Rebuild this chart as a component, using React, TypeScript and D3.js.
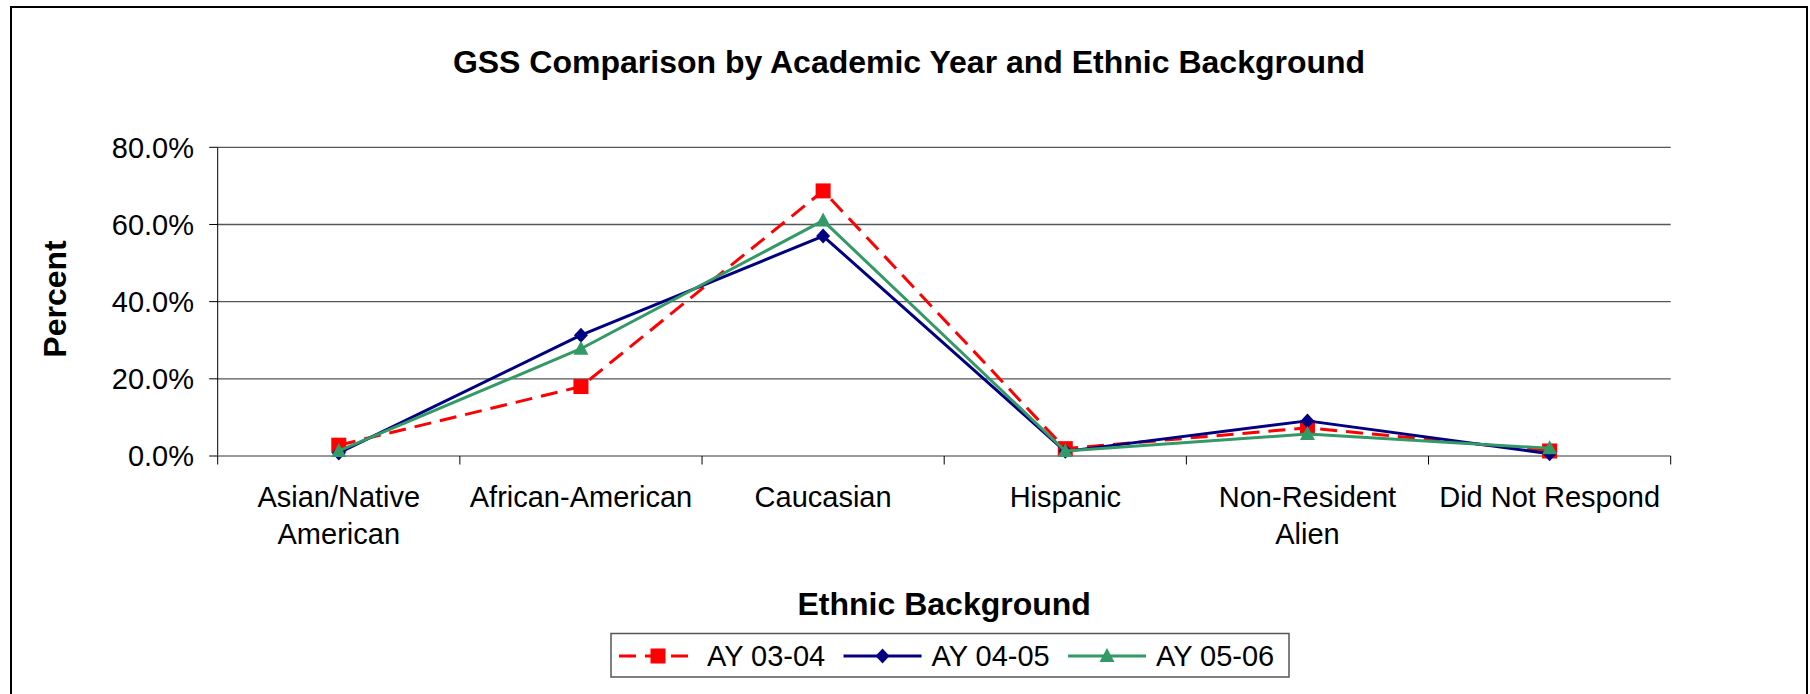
import React, { useEffect, useRef } from 'react';
import * as d3 from 'd3';

const categories = [
  'Asian/Native\nAmerican',
  'African-American',
  'Caucasian',
  'Hispanic',
  'Non-Resident\nAlien',
  'Did Not Respond',
];
const ay0304 = [0.028, 0.18, 0.687, 0.019, 0.073, 0.013];
const ay0405 = [0.008, 0.313, 0.57, 0.012, 0.091, 0.006];
const ay0506 = [0.013, 0.278, 0.61, 0.013, 0.057, 0.02];
const yTicks = [0, 0.2, 0.4, 0.6, 0.8];

const seriesNames = ['AY 03-04', 'AY 04-05', 'AY 05-06'];
const seriesValues = [ay0304, ay0405, ay0506];
const seriesColors = ['#FF0000', '#000080', '#339966'];
const seriesMarkers = ['square', 'diamond', 'triangle'];
const seriesDash = ['17,9', null, null];

const W = 1810;
const H = 694;
const FONT = 'Liberation Sans, Arial, sans-serif';

const App: React.FC = () => {
  const svgRef = useRef<SVGSVGElement>(null);

  useEffect(() => {
    if (!svgRef.current) return;
    const svg = d3.select(svgRef.current);
    svg.selectAll('*').remove();

    const plot = { left: 217.7, right: 1670.7, top: 147.3, bottom: 456 };

    const x = d3.scaleBand<string>()
      .domain(categories)
      .range([plot.left, plot.right])
      .padding(0);
    const y = d3.scaleLinear().domain([0, 0.8]).range([plot.bottom, plot.top]);

    // outer frame
    svg.append('rect')
      .attr('x', 11).attr('y', 7)
      .attr('width', 1796).attr('height', 700)
      .attr('fill', 'white')
      .attr('stroke', '#000')
      .attr('stroke-width', 2);

    // title
    svg.append('text')
      .attr('x', 909).attr('y', 73)
      .attr('text-anchor', 'middle')
      .style('font-family', FONT)
      .style('font-size', '32px')
      .style('font-weight', 'bold')
      .text('GSS Comparison by Academic Year and Ethnic Background');

    // gridlines
    svg.append('g')
      .selectAll('line')
      .data(yTicks.filter(t => t > 0))
      .enter().append('line')
      .attr('x1', plot.left).attr('x2', plot.right)
      .attr('y1', d => y(d)).attr('y2', d => y(d))
      .attr('stroke', '#555')
      .attr('stroke-width', 1.3);

    // y axis
    const yAxis = svg.append('g');
    yAxis.append('line')
      .attr('x1', plot.left).attr('x2', plot.left)
      .attr('y1', plot.top).attr('y2', plot.bottom)
      .attr('stroke', '#000');
    yAxis.selectAll('line.tick')
      .data(yTicks)
      .enter().append('line')
      .attr('class', 'tick')
      .attr('x1', plot.left - 8.5).attr('x2', plot.left)
      .attr('y1', d => y(d)).attr('y2', d => y(d))
      .attr('stroke', '#000');
    yAxis.selectAll('text')
      .data(yTicks)
      .enter().append('text')
      .attr('x', 194)
      .attr('y', d => y(d) + 10.4)
      .attr('text-anchor', 'end')
      .style('font-family', FONT)
      .style('font-size', '29px')
      .text(d => d3.format('.1%')(d));

    // x axis
    const xAxis = svg.append('g');
    xAxis.append('line')
      .attr('x1', plot.left).attr('x2', plot.right)
      .attr('y1', plot.bottom).attr('y2', plot.bottom)
      .attr('stroke', '#777')
      .attr('stroke-width', 1.6);
    const bounds = categories.map(c => x(c)!).concat([plot.right]);
    xAxis.selectAll('line.tick')
      .data(bounds)
      .enter().append('line')
      .attr('class', 'tick')
      .attr('x1', d => d).attr('x2', d => d)
      .attr('y1', plot.bottom).attr('y2', plot.bottom + 8.5)
      .attr('stroke', '#000');
    const label = xAxis.selectAll('text')
      .data(categories)
      .enter().append('text')
      .attr('text-anchor', 'middle')
      .style('font-family', FONT)
      .style('font-size', '29px');
    label.each(function (d) {
      const t = d3.select(this);
      d.split('\n').forEach((line, i) => {
        t.append('tspan')
          .attr('x', x(d)! + x.bandwidth() / 2)
          .attr('y', 507.3 + i * 36.7)
          .text(line);
      });
    });

    // axis titles
    svg.append('text')
      .attr('transform', 'translate(66,299) rotate(-90)')
      .attr('text-anchor', 'middle')
      .style('font-family', FONT)
      .style('font-size', '32px')
      .style('font-weight', 'bold')
      .text('Percent');
    svg.append('text')
      .attr('x', (plot.left + plot.right) / 2)
      .attr('y', 615)
      .attr('text-anchor', 'middle')
      .style('font-family', FONT)
      .style('font-size', '32px')
      .style('font-weight', 'bold')
      .text('Ethnic Background');

    const drawMarker = (g: d3.Selection<SVGGElement, unknown, null, undefined>, kind: string, cx: number, cy: number, color: string) => {
      if (kind === 'square') {
        g.append('rect')
          .attr('x', cx - 7.5).attr('y', cy - 7.5)
          .attr('width', 15).attr('height', 15)
          .attr('fill', color);
      } else if (kind === 'diamond') {
        g.append('path')
          .attr('d', `M${cx},${cy - 7.5}L${cx + 7},${cy}L${cx},${cy + 7.5}L${cx - 7},${cy}Z`)
          .attr('fill', color);
      } else {
        g.append('path')
          .attr('d', `M${cx},${cy - 8}L${cx + 7.5},${cy + 6}L${cx - 7.5},${cy + 6}Z`)
          .attr('fill', color);
      }
    };

    // series
    const line = d3.line<number>()
      .x((_, i) => x(categories[i])! + x.bandwidth() / 2)
      .y(d => y(d));

    seriesValues.forEach((vals, s) => {
      const g = svg.append('g');
      const p = g.append('path')
        .attr('d', line(vals)!)
        .attr('fill', 'none')
        .attr('stroke', seriesColors[s])
        .attr('stroke-width', 3)
        .attr('stroke-linejoin', 'round');
      if (seriesDash[s]) p.attr('stroke-dasharray', seriesDash[s]!);
      vals.forEach((v, i) => {
        drawMarker(g, seriesMarkers[s], x(categories[i])! + x.bandwidth() / 2, y(v), seriesColors[s]);
      });
    });

    // legend
    const legend = svg.append('g');
    legend.append('rect')
      .attr('x', 611).attr('y', 633.5)
      .attr('width', 678).attr('height', 43.5)
      .attr('fill', 'white')
      .attr('stroke', '#555')
      .attr('stroke-width', 1.5);
    seriesNames.forEach((name, s) => {
      const x0 = 619 + s * 224.5;
      const cy = 656;
      const g = legend.append('g');
      const l = g.append('line')
        .attr('x1', x0).attr('x2', x0 + 78)
        .attr('y1', cy).attr('y2', cy)
        .attr('stroke', seriesColors[s])
        .attr('stroke-width', 3);
      if (seriesDash[s]) l.attr('stroke-dasharray', seriesDash[s]!);
      drawMarker(g, seriesMarkers[s], x0 + 39, cy, seriesColors[s]);
      g.append('text')
        .attr('x', x0 + 88)
        .attr('y', 666)
        .style('font-family', FONT)
        .style('font-size', '29px')
        .text(name);
    });
  }, []);

  return (
    <svg
      ref={svgRef}
      width={W}
      height={H}
      style={{ position: 'absolute', left: 0, top: 0 }}
    />
  );
};

export default App;
